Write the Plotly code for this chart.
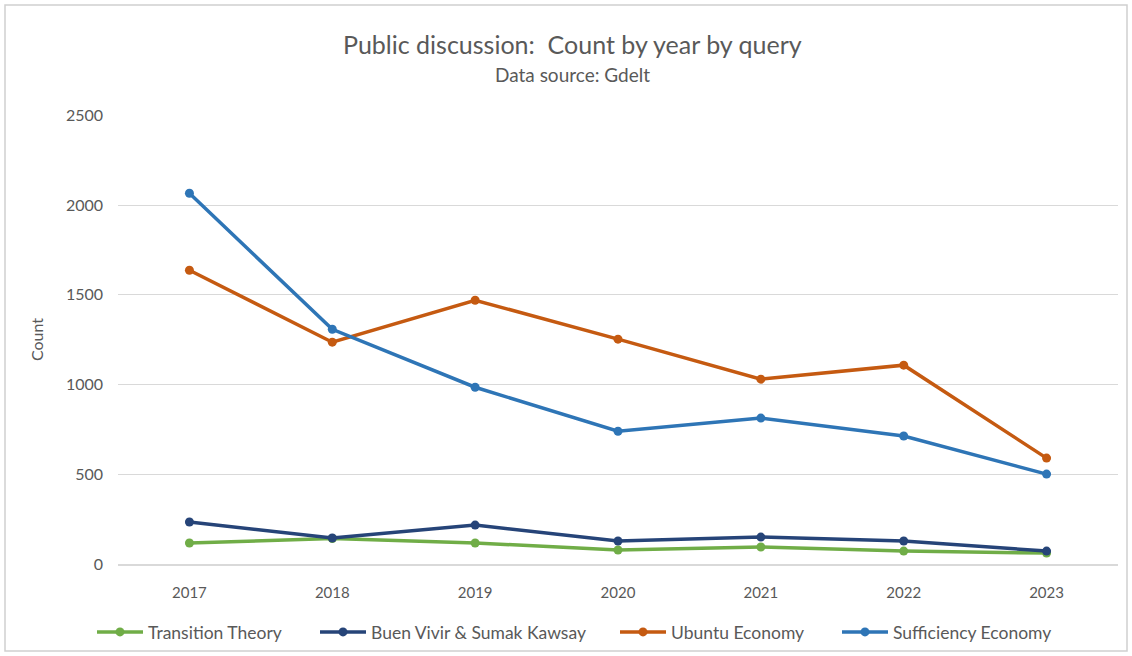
import plotly.graph_objects as go

years = ["2017", "2018", "2019", "2020", "2021", "2022", "2023"]
transition_theory = [117, 142, 117, 78, 95, 72, 61]
buen_vivir = [234, 145, 217, 128, 150, 128, 72]
ubuntu_economy = [1637, 1236, 1470, 1253, 1030, 1108, 590]
sufficiency_economy = [2066, 1308, 985, 740, 813, 713, 501]

series = [
    ("Transition Theory", transition_theory, "#70ad47"),
    ("Buen Vivir & Sumak Kawsay", buen_vivir, "#264478"),
    ("Ubuntu Economy", ubuntu_economy, "#c55a11"),
    ("Sufficiency Economy", sufficiency_economy, "#2e75b6"),
]
# left edge (px) of each legend box along the bottom row
legend_left_px = [92, 315, 615, 837]

FONT = "Lato, 'Open Sans', sans-serif"
W, H = 1132, 656
L, R, T, B = 118, 14, 115, 92
pw, ph = W - L - R, H - T - B

def px_x(px):
    return (px - L) / pw

def px_y(py):
    return (H - B - py) / ph

fig = go.Figure()
legend_layouts = {}
for i, ((name, vals, color), lx) in enumerate(zip(series, legend_left_px)):
    key = "legend" if i == 0 else f"legend{i + 1}"
    fig.add_trace(go.Scatter(
        x=years, y=vals, name=name, mode="lines+markers",
        line=dict(color=color, width=3.5),
        marker=dict(color=color, size=9),
        legend=key,
    ))
    legend_layouts[key] = dict(
        orientation="h", xref="container", yref="container",
        x=lx / W, xanchor="left", y=1 - 632 / H, yanchor="middle",
        font=dict(size=17.5, color="#595959"), itemwidth=46,
        bgcolor="rgba(0,0,0,0)",
    )

fig.update_layout(
    width=W, height=H,
    margin=dict(l=L, r=R, t=T, b=B),
    paper_bgcolor="white", plot_bgcolor="white",
    font=dict(family=FONT, color="#595959", size=13),
    showlegend=True,
    **legend_layouts,
    xaxis=dict(type="category", range=[-0.5, 6.5], showgrid=False,
               showline=True, linecolor="#d9d9d9", linewidth=1.5,
               ticks="", ticklabelstandoff=14,
               tickfont=dict(size=15, color="#595959")),
    yaxis=dict(range=[0, 2502], tickvals=[0, 500, 1000, 1500, 2000, 2500],
               showgrid=True, gridcolor="#d9d9d9", gridwidth=1,
               zeroline=False, showline=False, ticks="",
               ticklabelstandoff=14,
               tickfont=dict(size=16, color="#595959"),
               title=dict(text="Count", font=dict(size=16, color="#595959"),
                          standoff=18)),
    annotations=[
        dict(text="Public discussion:  Count by year by query",
             x=px_x(572), y=px_y(44), xref="paper", yref="paper",
             xanchor="center", yanchor="middle",
             showarrow=False, font=dict(size=25, color="#595959")),
        dict(text="Data source: Gdelt",
             x=px_x(572), y=px_y(74), xref="paper", yref="paper",
             xanchor="center", yanchor="middle",
             showarrow=False, font=dict(size=19, color="#595959")),
    ],
    shapes=[
        dict(type="rect", xref="paper", yref="paper",
             x0=px_x(5), x1=px_x(1127), y0=px_y(651), y1=px_y(5),
             line=dict(color="#d0d0d0", width=1.5), layer="below"),
    ],
)

fig.write_html("out.html")
